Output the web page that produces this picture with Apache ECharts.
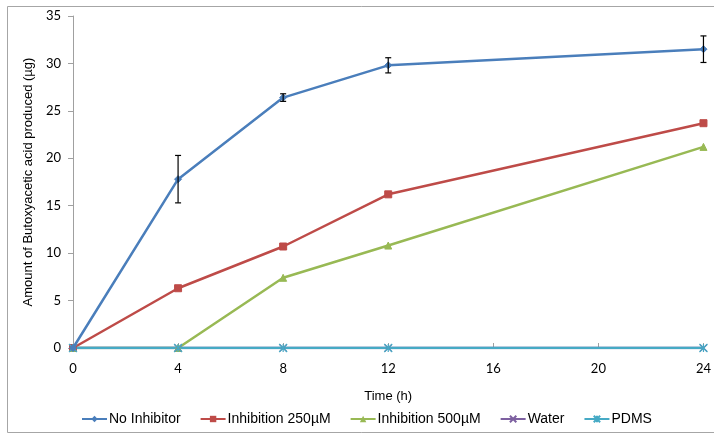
<!DOCTYPE html>
<html>
<head>
<meta charset="utf-8">
<script src="https://cdn.jsdelivr.net/npm/echarts@6/dist/echarts.min.js"></script>
<style>
  html, body { margin: 0; padding: 0; background: #fff; }
  #chart { width: 714px; height: 437px; }
</style>
</head>
<body>
<div id="chart"></div>
<script>
var hours = [0, 4, 8, 12, 24];
var noInhibitor = [0, 17.8, 26.4, 29.8, 31.5];
var noInhibitorErr = [0, 2.5, 0.4, 0.8, 1.4];
var inhib250 = [0, 6.3, 10.7, 16.2, 23.7];
var inhib500 = [0, 0, 7.4, 10.8, 21.2];
var water = [0, 0, 0, 0, 0];
var pdms = [0, 0, 0, 0, 0];

var chart = echarts.init(document.getElementById('chart'));

function pairs(ys) {
  return hours.map(function (h, i) { return [h, ys[i]]; });
}

var crossPath = 'path://M0,0L10,10M10,0L0,10';
var starPath = 'path://M0,0L10,10M10,0L0,10M5,0L5,10';

var errData = hours.map(function (h, i) {
  return [h, noInhibitor[i] - noInhibitorErr[i], noInhibitor[i] + noInhibitorErr[i]];
}).filter(function (d) { return d[2] > d[1]; });

function lineSeries(name, ys, color, symbol, size, extra) {
  var s = {
    name: name,
    type: 'line',
    data: pairs(ys),
    symbol: symbol,
    symbolSize: size,
    lineStyle: { color: color, width: 2.5 },
    itemStyle: { color: color, borderColor: color },
    animation: false
  };
  if (extra) Object.assign(s, extra);
  return s;
}

var option = {
  backgroundColor: '#fff',
  textStyle: { fontFamily: 'Liberation Sans' },
  graphic: [{
    type: 'rect',
    shape: { x: 7.5, y: 6.5, width: 710, height: 426 },
    style: { fill: 'none', stroke: '#a6a6a6', lineWidth: 1 },
    silent: true
  }],
  grid: { left: 73, right: 5, top: 16, bottom: 89, containLabel: false },
  legend: {
    bottom: 6,
    left: 76,
    itemWidth: 25,
    itemHeight: 8,
    itemGap: 19,
    textStyle: { fontSize: 14, color: '#000', fontFamily: 'Liberation Sans', padding: [0, 0, 0, -3] },
    data: ['No Inhibitor', 'Inhibition 250µM', 'Inhibition 500µM', 'Water', 'PDMS']
  },
  xAxis: {
    type: 'value',
    min: 0, max: 24, interval: 4,
    name: 'Time (h)',
    nameLocation: 'middle',
    nameGap: 42,
    nameTextStyle: { fontSize: 13, color: '#000', fontFamily: 'Liberation Sans' },
    axisLine: { lineStyle: { color: '#a0a0a0' } },
    axisTick: { show: true, inside: true, length: 5, lineStyle: { color: '#a0a0a0' } },
    axisLabel: { fontSize: 13, color: '#000', margin: 14, fontFamily: 'Lato' },
    splitLine: { show: false }
  },
  yAxis: {
    type: 'value',
    min: 0, max: 35, interval: 5,
    name: 'Amount of Butoxyacetic acid produced (µg)',
    nameLocation: 'middle',
    nameGap: 37,
    nameTextStyle: { fontSize: 13, color: '#000', fontFamily: 'Liberation Sans' },
    axisLine: { show: true, lineStyle: { color: '#a0a0a0' } },
    axisTick: { show: true, length: 5, lineStyle: { color: '#a0a0a0' } },
    axisLabel: { fontSize: 13, color: '#000', margin: 12, fontFamily: 'Lato' },
    splitLine: { show: false }
  },
  series: [
    lineSeries('No Inhibitor', noInhibitor, '#4a7ebb', 'diamond', 7, { z: 5 }),
    lineSeries('Inhibition 250µM', inhib250, '#be4b48', 'rect', 7),
    lineSeries('Inhibition 500µM', inhib500, '#98b954', 'triangle', 7),
    lineSeries('Water', water, '#7d60a0', crossPath, 7, {
      itemStyle: { color: 'none', borderColor: '#7d60a0', borderWidth: 1.2 }
    }),
    lineSeries('PDMS', pdms, '#46aac5', starPath, 8, {
      itemStyle: { color: 'none', borderColor: '#46aac5', borderWidth: 1.2 }
    }),
    {
      type: 'custom',
      name: 'err',
      z: 10,
      animation: false,
      data: errData,
      renderItem: function (params, api) {
        var x = api.value(0);
        var lo = api.coord([x, api.value(1)]);
        var hi = api.coord([x, api.value(2)]);
        var w = 3;
        var st = { stroke: '#000', lineWidth: 1.2 };
        return {
          type: 'group',
          children: [
            { type: 'line', shape: { x1: lo[0], y1: lo[1], x2: hi[0], y2: hi[1] }, style: st },
            { type: 'line', shape: { x1: lo[0] - w, y1: lo[1], x2: lo[0] + w, y2: lo[1] }, style: st },
            { type: 'line', shape: { x1: hi[0] - w, y1: hi[1], x2: hi[0] + w, y2: hi[1] }, style: st }
          ]
        };
      }
    }
  ]
};

option && chart.setOption(option);
</script>
</body>
</html>
